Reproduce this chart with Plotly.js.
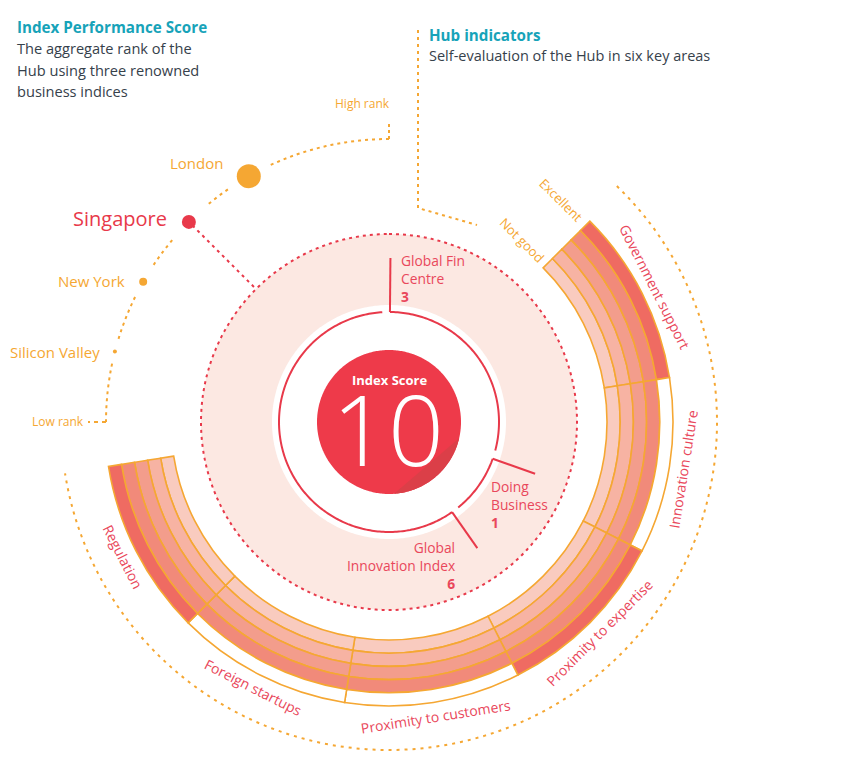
<!DOCTYPE html>
<html>
<head>
<meta charset="utf-8">
<script src="https://cdn.plot.ly/plotly-3.0.1.min.js"></script>
<style>
  html, body { margin: 0; padding: 0; background: #ffffff; }
  #chart { width: 864px; height: 769px; }
</style>
</head>
<body>
<div id="chart"></div>
<script>
// ---------------- DATA ----------------
const indicators = ['Government support', 'Innovation culture', 'Proximity to expertise',
                    'Proximity to customers', 'Foreign startups', 'Regulation'];
const indicatorScores = [5, 4, 5, 4, 4, 5];          // out of 5 levels
const scaleLevels = [1, 2, 3, 4, 5];
const scaleLabels = ['Not good', 'Excellent'];

const hubs = ['London', 'Singapore', 'New York', 'Silicon Valley'];
const hubRank = [0.67, 0.50, 0.33, 0.16];              // 0 = low rank, 1 = high rank
const rankLabels = ['Low rank', 'High rank'];

const indices = ['Global Fin<br>Centre', 'Doing<br>Business', 'Global<br>Innovation Index'];
const indexRanks = [3, 1, 6];
const indexScore = 10;

// ---------------- STYLE / GEOMETRY ----------------
const W = 864, H = 769;
const CX = 389, CY = 422, R = 340;              // polar centre and radius in px
const ORANGE = '#F5A733', RED = '#E8394A', PINK_TXT = '#E9475B', TEAL = '#17A3B9', DARK = '#36414B';
const levelColors = ['#F9CBBF', '#F7B3A3', '#F39D8C', '#F18A7A', '#EF6B62'];
const bandInner = 218, bandStep = 13.2;
const sectorStart = 45, sectorWidth = 36;
const hubDotSize = [24, 14, 8, 4];
const hubDotColor = [ORANGE, RED, ORANGE, ORANGE];
const indexLeaderAngle = [0.5, 109.5, 145];
const indexLeaderLen = [164, 155, 154];

function P(theta, r) {
  const a = theta * Math.PI / 180;
  return [CX + r * Math.sin(a), CY - r * Math.cos(a)];
}
function px2paper(x, y) { return [x / W, 1 - y / H]; }
function arcTheta(t0, t1, step) {
  step = step || 1; const out = [];
  const n = Math.max(2, Math.ceil(Math.abs(t1 - t0) / step) + 1);
  for (let i = 0; i < n; i++) out.push(t0 + (t1 - t0) * i / (n - 1));
  return out;
}
function arcTrace(r, t0, t1, line, extra) {
  const th = arcTheta(t0, t1, 1);
  return Object.assign({
    type: 'scatterpolar', mode: 'lines', theta: th, r: th.map(() => r),
    line: line, hoverinfo: 'skip', showlegend: false
  }, extra || {});
}

const traces = [];

// pale disk with dotted red border
traces.push(arcTrace(188, 0, 360, { width: 0, color: 'rgba(0,0,0,0)' }, { fill: 'toself', fillcolor: '#FCE8E2' }));
traces.push(arcTrace(188, 0, 360, { width: 2, color: RED, dash: '3px,4px' }));
// white disk
traces.push(arcTrace(117, 0, 360, { width: 0, color: 'rgba(0,0,0,0)' }, { fill: 'toself', fillcolor: '#ffffff' }));
// thin red ring arcs (gap just before each index leader)
const ringArcs = [[indexLeaderAngle[0], indexLeaderAngle[1] - 4.5],
                  [indexLeaderAngle[1], indexLeaderAngle[2] - 4],
                  [indexLeaderAngle[2], 360 + indexLeaderAngle[0] - 4]];
ringArcs.forEach(a => traces.push(arcTrace(110, a[0], a[1], { width: 2, color: RED })));
// index leaders
indexLeaderAngle.forEach((t, i) => {
  traces.push({ type: 'scatterpolar', mode: 'lines', theta: [t, t], r: [110, indexLeaderLen[i]],
                line: { width: 2, color: RED }, hoverinfo: 'skip', showlegend: false });
});
// red index disk and its shaded lower-right part
traces.push(arcTrace(72, 0, 360, { width: 0, color: 'rgba(0,0,0,0)' }, { fill: 'toself', fillcolor: '#EE3A4A' }));
traces.push(arcTrace(72, 103, 176, { width: 0, color: 'rgba(0,0,0,0)' }, { fill: 'toself', fillcolor: '#DB3F48' }));

// Hub indicator bars: one trace per level
const sectorTheta = indicators.map((_, i) => sectorStart + sectorWidth * (i + 0.5));
scaleLevels.forEach((lv, li) => {
  traces.push({
    type: 'barpolar',
    theta: sectorTheta,
    r: indicators.map(() => bandStep),
    base: indicators.map(() => bandInner + bandStep * li),
    width: indicators.map(() => sectorWidth),
    marker: {
      color: indicatorScores.map(s => s >= lv ? levelColors[li] : '#ffffff'),
      line: { color: ORANGE, width: 1.6 },
      opacity: 1
    },
    text: indicators, hoverinfo: 'text', showlegend: false
  });
});

// outer dotted orange arc
traces.push(arcTrace(328, 44, 261, { width: 2, color: ORANGE, dash: '3px,5px' }));

// rank arc (270 = low rank, 360 = high rank) with gaps around hub dots
const hubTheta = hubRank.map(v => 270 + 90 * v);
const gapHalf = [5, 5, 3.5, 2.5];
let prev = 360;
hubTheta.forEach((t, i) => {
  traces.push(arcTrace(283, prev, t + gapHalf[i], { width: 2, color: ORANGE, dash: '3px,4px' }));
  prev = t - gapHalf[i];
});
traces.push(arcTrace(283, prev, 270, { width: 2, color: ORANGE, dash: '3px,4px' }));
// end ticks
traces.push({ type: 'scatterpolar', mode: 'lines', theta: [0, 0], r: [283, 298],
              line: { width: 2, color: ORANGE, dash: '3px,3px' }, hoverinfo: 'skip', showlegend: false });
traces.push({ type: 'scatterpolar', mode: 'lines', theta: [270, 270], r: [283, 301],
              line: { width: 2, color: ORANGE, dash: '4px,4px' }, hoverinfo: 'skip', showlegend: false });
// Singapore leader to the index circle
traces.push({ type: 'scatterpolar', mode: 'lines', theta: [hubTheta[1], hubTheta[1]], r: [191, 283],
              line: { width: 2, color: RED, dash: '3px,4px' }, hoverinfo: 'skip', showlegend: false });
// hub dots
traces.push({ type: 'scatterpolar', mode: 'markers', theta: hubTheta, r: hubs.map(() => 283),
              marker: { size: hubDotSize, color: hubDotColor, opacity: 1, line: { width: 0 } },
              opacity: 1, text: hubs, hoverinfo: 'text', showlegend: false });

// ---------------- ANNOTATIONS ----------------
const ann = [];
function addText(text, x, y, o) {
  o = o || {};
  const p = px2paper(x, y);
  ann.push(Object.assign({
    xref: 'paper', yref: 'paper', x: p[0], y: p[1], text: text, showarrow: false,
    xanchor: 'center', yanchor: 'middle',
    font: { family: 'Open Sans, sans-serif', size: o.size || 14, color: o.color || DARK, weight: o.weight || 400 }
  }, o.extra || {}));
}

// headers
addText('<b>Index Performance Score</b>', 15, 27, { color: TEAL, size: 15.2, extra: { xanchor: 'left' } });
addText('The aggregate rank of the', 15, 48, { color: DARK, size: 14.6, extra: { xanchor: 'left' } });
addText('Hub using three renowned', 15, 70, { color: DARK, size: 14.6, extra: { xanchor: 'left' } });
addText('business indices', 15, 91, { color: DARK, size: 14.6, extra: { xanchor: 'left' } });
addText('<b>Hub indicators</b>', 427, 35, { color: TEAL, size: 15.2, extra: { xanchor: 'left' } });
addText('Self-evaluation of the Hub in six key areas', 427, 56, { color: DARK, size: 14.5, extra: { xanchor: 'left' } });

// rank labels
addText(rankLabels[1], 362, 103, { color: ORANGE, size: 12 });
addText(rankLabels[0], 86, 421, { color: ORANGE, size: 12, extra: { xanchor: 'right' } });

// hub labels
const hubLabelPos = [[225, 163, 15], [169, 219, 20], [127, 281, 15], [102, 352, 15]];
hubs.forEach((h, i) => {
  addText(h, hubLabelPos[i][0], hubLabelPos[i][1],
          { color: i === 1 ? RED : ORANGE, size: hubLabelPos[i][2], extra: { xanchor: 'right' } });
});

// index score
addText('<b>Index Score</b>', CX, 380, { color: '#ffffff', size: 13 });
addText(String(indexScore), CX - 1, 428, { color: '#ffffff', size: 98, weight: 300 });

// index labels
const indexLabelPos = [[399, 249, 'left'], [489, 475, 'left'], [457, 536, 'right']];
indices.forEach((t, i) => {
  addText(t + '<br><b>' + indexRanks[i] + '</b>', indexLabelPos[i][0], indexLabelPos[i][1],
          { color: PINK_TXT, size: 13.8, extra: { xanchor: indexLabelPos[i][2], yanchor: 'top', align: indexLabelPos[i][2] } });
});

// sector labels (rotated along the ring)
sectorTheta.forEach((t, i) => {
  const p = P(t, 298);
  const ang = (t > 90 && t < 270) ? t - 180 : t;
  addText(indicators[i], p[0], p[1], { color: PINK_TXT, size: 14, extra: { textangle: ang } });
});

// scale labels
addText(scaleLabels[0], 522, 240, { color: ORANGE, size: 13, extra: { textangle: 45 } });
addText(scaleLabels[1], 561, 200, { color: ORANGE, size: 13, extra: { textangle: 45 } });

// hub indicators leader (paper shape)
const a1 = px2paper(418, 30), a2 = px2paper(418, 208), a3 = px2paper(477, 225);
const shapes = [{
  type: 'path', xref: 'paper', yref: 'paper',
  path: `M${a1[0]},${a1[1]} L${a2[0]},${a2[1]} L${a3[0]},${a3[1]}`,
  line: { color: ORANGE, width: 2, dash: '3px,4px' }
}];

const layout = {
  width: W, height: H,
  margin: { l: 0, r: 0, t: 0, b: 0 },
  paper_bgcolor: '#ffffff',
  showlegend: false,
  polar: {
    domain: { x: [(CX - R) / W, (CX + R) / W], y: [(H - CY - R) / H, (H - CY + R) / H] },
    bgcolor: 'rgba(0,0,0,0)',
    bargap: 0,
    radialaxis: { range: [0, R], visible: false, showgrid: false },
    angularaxis: { visible: false, showgrid: false, rotation: 90, direction: 'clockwise' }
  },
  annotations: ann,
  shapes: shapes
};

Plotly.newPlot('chart', traces, layout, { displayModeBar: false, staticPlot: true });
</script>
</body>
</html>
